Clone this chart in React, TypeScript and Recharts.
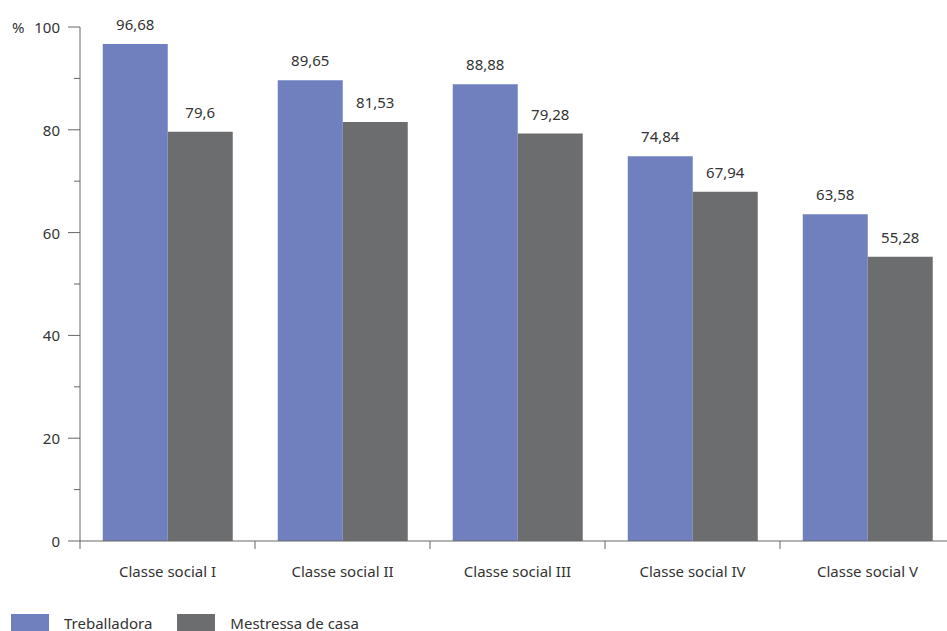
import React from "react";
import { BarChart, Bar, XAxis, YAxis, LabelList } from "recharts";

const categories = ["Classe social I", "Classe social II", "Classe social III", "Classe social IV", "Classe social V"];
const treballadora = [96.68, 89.65, 88.88, 74.84, 63.58];
const mestressa = [79.6, 81.53, 79.28, 67.94, 55.28];
const yTicks = [0, 10, 20, 30, 40, 50, 60, 70, 80, 90, 100];

const series = [
  { key: "treballadora", name: "Treballadora", color: "#7080bf" },
  { key: "mestressa", name: "Mestressa de casa", color: "#6c6d6f" },
];

const data = categories.map((c, i) => ({
  name: c,
  treballadora: treballadora[i],
  mestressa: mestressa[i],
}));

const FONT = "'Noto Sans', sans-serif";
const TEXT = "#333";
const AXIS = "#666";
const BAND = 175;

const fmt = (v: any) => String(v).replace(".", ",");

const YTick = ({ x, y, payload }: any) => {
  const v = payload.value;
  const major = v % 20 === 0;
  return (
    <g>
      <line x1={x - (major ? 12 : 6)} x2={x} y1={y} y2={y} stroke={AXIS} />
      {major && (
        <text x={x - 20} y={y} textAnchor="end" dominantBaseline="central" fontSize={15} fill={TEXT} fontFamily={FONT}>
          {v}
        </text>
      )}
      {v === 100 && (
        <text x={x - 68} y={y} textAnchor="start" dominantBaseline="central" fontSize={15} fill={TEXT} fontFamily={FONT}>
          %
        </text>
      )}
    </g>
  );
};

const XTick = ({ x, y, payload }: any) => (
  <g>
    <line x1={x - BAND / 2} x2={x - BAND / 2} y1={y} y2={y + 8} stroke={AXIS} />
    <text x={x} y={y + 30} textAnchor="middle" dominantBaseline="central" fontSize={15} fill={TEXT} fontFamily={FONT}>
      {payload.value}
    </text>
  </g>
);

export default function App() {
  return (
    <div style={{ position: "fixed", left: 0, top: 0, width: 947, height: 631, overflow: "hidden", background: "#fff" }}>
      <BarChart
        width={960}
        height={631}
        data={data}
        margin={{ top: 27, right: 5, bottom: 40, left: 0 }}
        barCategoryGap="13%"
        barGap={0}
      >
        <YAxis
          type="number"
          domain={[0, 100]}
          ticks={yTicks}
          interval={0}
          width={80}
          tickSize={0}
          tickMargin={0}
          tickLine={false}
          axisLine={{ stroke: AXIS }}
          tick={<YTick />}
        />
        <XAxis
          dataKey="name"
          height={50}
          tickSize={0}
          tickMargin={0}
          tickLine={false}
          axisLine={{ stroke: AXIS }}
          tick={<XTick />}
          interval={0}
        />
        {series.map((s) => (
          <Bar key={s.key} dataKey={s.key} name={s.name} fill={s.color} isAnimationActive={false}>
            <LabelList
              dataKey={s.key}
              position="top"
              offset={14}
              formatter={fmt}
              style={{ fontSize: 15, fill: TEXT, fontFamily: FONT }}
            />
          </Bar>
        ))}
      </BarChart>
      <div style={{ position: "absolute", left: 11, top: 614, display: "flex", fontFamily: FONT, fontSize: 15, color: TEXT }}>
        {series.map((s) => (
          <div key={s.key} style={{ display: "flex", alignItems: "center", marginRight: 25 }}>
            <div style={{ width: 38, height: 18, background: s.color, marginRight: 15 }} />
            <span style={{ lineHeight: "17px" }}>{s.name}</span>
          </div>
        ))}
      </div>
    </div>
  );
}
